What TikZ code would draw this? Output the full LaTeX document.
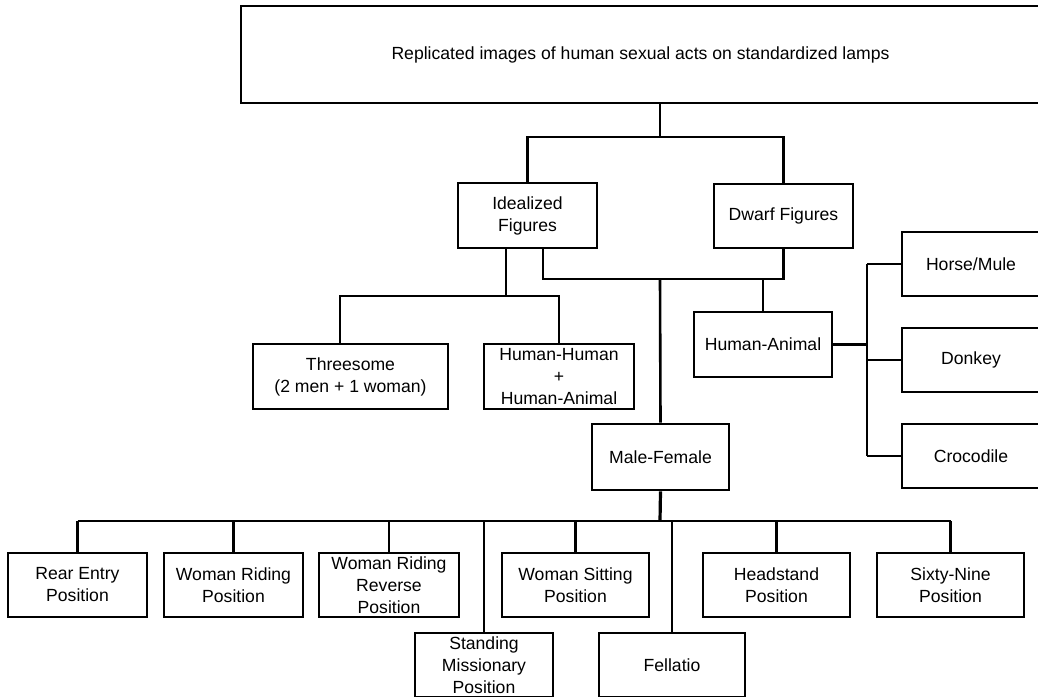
\documentclass[tikz,border=0pt]{standalone}
\usepackage{fontspec}
\setmainfont{Liberation Sans}
\begin{document}
\begin{tikzpicture}[x=1pt,y=-1pt,
  bx/.style={draw=black,line width=2.6pt,fill=white,align=center,inner sep=0pt,
    text=black,font=\fontsize{17.6}{22}\selectfont},
  ln/.style={draw=black,line width=2.6pt},
  thk/.style={draw=black,line width=3.2pt}]
\useasboundingbox (0,0) rectangle (1038,696);
\clip (0,0) rectangle (1038,696);
% nodes
\node[bx,minimum width=799pt,minimum height=97pt] (top) at (640.5,54.5) {Replicated images of human sexual acts on standardized lamps};
\node[bx,minimum width=139pt,minimum height=65pt] (idl) at (527.5,215.5) {Idealized\\Figures};
\node[bx,minimum width=139pt,minimum height=64pt] (dwf) at (783.5,216) {Dwarf Figures};
\node[bx,minimum width=195pt,minimum height=65pt] (thr) at (350.5,376.5) {Threesome\\(2 men + 1 woman)};
\node[bx,minimum width=150pt,minimum height=65pt] (hh) at (559,376.5) {Human-Human\\+\\Human-Animal};
\node[bx,minimum width=138pt,minimum height=65pt] (ha) at (763,344.5) {Human-Animal};
\node[bx,minimum width=138pt,minimum height=64pt] (hor) at (971,264) {Horse/Mule};
\node[bx,minimum width=138pt,minimum height=64pt] (don) at (971,360) {Donkey};
\node[bx,minimum width=138pt,minimum height=64pt] (cro) at (971,456) {Crocodile};
\node[bx,minimum width=137pt,minimum height=66pt] (mf) at (660.5,457) {Male-Female};
\node[bx,minimum width=139pt,minimum height=64pt] (rear) at (77.5,585) {Rear Entry\\Position};
\node[bx,minimum width=139pt,minimum height=64pt] (wr) at (233.5,585) {Woman Riding\\Position};
\node[bx,minimum width=140pt,minimum height=64pt] (wrr) at (389,585) {Woman Riding\\Reverse\\Position};
\node[bx,minimum width=147pt,minimum height=64pt] (ws) at (575.5,585) {Woman Sitting\\Position};
\node[bx,minimum width=147pt,minimum height=64pt] (hs) at (776.5,585) {Headstand\\Position};
\node[bx,minimum width=147pt,minimum height=64pt] (six) at (950.5,585) {Sixty-Nine\\Position};
\node[bx,minimum width=138pt,minimum height=64pt] (sm) at (484,665) {Standing\\Missionary\\Position};
\node[bx,minimum width=146pt,minimum height=64pt] (fel) at (672,665) {Fellatio};
% junction coordinates
\coordinate (j0) at (660,137);
\coordinate (a1) at (506,296);
\coordinate (a2) at (340,296);
\coordinate (b1) at (543,279);
\coordinate (b3) at (660,279);
\coordinate (c0) at (867,344.5);
\coordinate (d0) at (660,521);
% connectors
\draw[ln] (top.south -| j0) -- (j0);
\draw[ln] (idl.north) -- (idl.north |- j0) -- (dwf.north |- j0) -- (dwf.north);
\draw[ln] (idl.south -| a1) -- (a1);
\draw[ln] (thr.north -| a2) -- (a2) -- (hh.north |- a2) -- (hh.north);
\draw[ln] (idl.south -| b1) -- (b1) -- (dwf.south |- b1) -- (dwf.south);
\draw[ln] (b3) -- (mf.north);
\draw[ln] (ha.north |- b1) -- (ha.north);
\draw[thk] (ha.east) -- (c0);
\draw[ln] (hor.west -| c0) -- (cro.west -| c0);
\draw[ln] (hor.west -| c0) -- (hor.west);
\draw[ln] (don.west -| c0) -- (don.west);
\draw[ln] (cro.west -| c0) -- (cro.west);
\draw[thk] (mf.south) -- (d0);
\draw[ln] (rear.north |- d0) -- (six.north |- d0);
\foreach \n in {rear,wr,wrr,ws,hs,six,sm,fel}
  \draw[ln] (\n.north |- d0) -- (\n.north);
\end{tikzpicture}
\end{document}
